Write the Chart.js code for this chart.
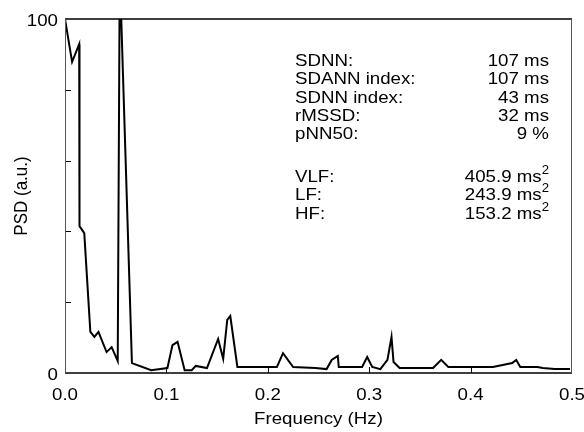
<!DOCTYPE html>
<html>
<head>
<meta charset="utf-8">
<script src="https://cdn.jsdelivr.net/npm/chart.js@4"></script>
<style>
  html, body { margin: 0; padding: 0; background: #fff; }
  #wrap { width: 584px; height: 432px; }
</style>
</head>
<body>
<div id="wrap"><canvas id="psd"></canvas></div>
<script>
// spectrum
const freqs = [0, 0.007, 0.014, 0.0143, 0.019, 0.025, 0.029, 0.033, 0.041, 0.046, 0.052, 0.054,
  0.066, 0.085, 0.101, 0.106, 0.111, 0.118, 0.125, 0.129, 0.140, 0.151, 0.156, 0.160, 0.163, 0.170,
  0.209, 0.215, 0.225, 0.247, 0.258, 0.263, 0.269, 0.270, 0.293, 0.298, 0.303, 0.311, 0.318, 0.322,
  0.324, 0.330, 0.363, 0.371, 0.378, 0.422, 0.441, 0.445, 0.449, 0.466, 0.471, 0.483, 0.498];
const psd = [100, 87.9, 92.9, 41.5, 39.5, 11.6, 10.2, 11.6, 5.9, 7.3, 3.4, 113.6,
  2.8, 0.8, 1.4, 7.9, 8.8, 0.8, 0.8, 2.0, 1.4, 9.6, 4.0, 15.0, 16.1, 1.7,
  1.7, 5.6, 1.7, 1.4, 1.1, 3.7, 4.8, 1.7, 1.7, 4.5, 1.7, 1.1, 3.7, 10.2,
  3.1, 1.4, 1.4, 3.7, 1.7, 1.7, 2.8, 3.7, 1.7, 1.7, 1.4, 1.1, 1.1];

const xTicks = [0, 0.1, 0.2, 0.3, 0.4, 0.5];
const yTicks = [0, 20, 40, 60, 80, 100];
const yLabeled = [0, 100];

const statLabels = ['SDNN:', 'SDANN index:', 'SDNN index:', 'rMSSD:', 'pNN50:'];
const statValues = ['107 ms', '107 ms', '43 ms', '32 ms', '9 %'];
const bandLabels = ['VLF:', 'LF:', 'HF:'];
const bandValues = ['405.9 ms', '243.9 ms', '153.2 ms'];

const FONT = '"Liberation Sans", Arial, sans-serif';
const SX = 1.1; // text in the picture is a bit wide

function txt(ctx, s, x, y, align, size, rot) {
  ctx.save();
  ctx.translate(x, y);
  ctx.scale(SX, 1);
  if (rot) ctx.rotate(rot);
  ctx.font = size + 'px ' + FONT;
  ctx.textAlign = align;
  ctx.textBaseline = 'alphabetic';
  ctx.fillText(s, 0, 0);
  ctx.restore();
}

// frame, inward ticks, labels and the text block
const extras = {
  id: 'extras',
  afterDraw(chart) {
    const ctx = chart.ctx;
    const a = chart.chartArea;
    const xs = chart.scales.x, ys = chart.scales.y;
    ctx.save();
    ctx.strokeStyle = '#000';
    ctx.lineWidth = 1;
    yTicks.slice(1, -1).forEach(v => {
      const y = Math.round(ys.getPixelForValue(v)) + 0.5;
      ctx.beginPath(); ctx.moveTo(a.left, y); ctx.lineTo(a.left + 6, y); ctx.stroke();
    });
    xTicks.slice(1, -1).forEach(v => {
      const x = Math.round(xs.getPixelForValue(v)) + 0.5;
      ctx.beginPath(); ctx.moveTo(x, a.bottom); ctx.lineTo(x, a.bottom - 6); ctx.stroke();
    });
    // box
    ctx.lineWidth = 1.5;
    ctx.beginPath();
    ctx.moveTo(a.left, a.top); ctx.lineTo(a.right, a.top);
    ctx.moveTo(a.left, a.bottom); ctx.lineTo(a.right, a.bottom);
    ctx.stroke();
    ctx.lineWidth = 1;
    ctx.strokeStyle = '#555';
    ctx.beginPath();
    ctx.moveTo(a.left + 0.5, a.top); ctx.lineTo(a.left + 0.5, a.bottom);
    ctx.moveTo(a.right - 0.5, a.top); ctx.lineTo(a.right - 0.5, a.bottom);
    ctx.stroke();

    ctx.fillStyle = '#000';
    // tick labels
    yLabeled.forEach(v => txt(ctx, String(v), a.left - 7, ys.getPixelForValue(v) + 6.5, 'right', 17));
    xTicks.forEach(v => txt(ctx, v.toFixed(1), xs.getPixelForValue(v), 399.5, 'center', 17));
    // axis titles
    txt(ctx, 'Frequency (Hz)', (a.left + a.right) / 2, 424, 'center', 17);
    txt(ctx, 'PSD (a.u.)', 27, (a.top + a.bottom) / 2, 'center', 17, -Math.PI / 2);

    // stats text
    const lx = 295, rx = 549, lh = 18.3;
    statLabels.forEach((t, i) => {
      const y = 66 + i * lh;
      txt(ctx, t, lx, y, 'left', 17);
      txt(ctx, statValues[i], rx, y, 'right', 17);
    });
    ctx.font = '12px ' + FONT;
    const w2 = ctx.measureText('2').width * SX;
    bandLabels.forEach((t, i) => {
      const y = 182 + i * lh;
      txt(ctx, t, lx, y, 'left', 17);
      txt(ctx, '2', rx, y - 8, 'right', 12);
      txt(ctx, bandValues[i], rx - w2, y, 'right', 17);
    });
    ctx.restore();
  }
};

new Chart(document.getElementById('psd'), {
  type: 'line',
  data: {
    datasets: [{
      data: freqs.map((f, i) => ({ x: f, y: psd[i] })),
      borderColor: '#000',
      borderWidth: 2,
      pointRadius: 0,
      tension: 0,
      fill: false
    }]
  },
  options: {
    responsive: true,
    maintainAspectRatio: false,
    animation: false,
    layout: { padding: { left: 0, top: 19, right: 12, bottom: 0 } },
    plugins: { legend: { display: false }, tooltip: { enabled: false } },
    scales: {
      x: {
        type: 'linear',
        min: 0, max: 0.5,
        grid: { display: false, drawTicks: false },
        border: { display: false },
        ticks: { display: false },
        afterFit: s => { s.height = 59; }
      },
      y: {
        min: 0, max: 100,
        grid: { display: false, drawTicks: false },
        border: { display: false },
        ticks: { display: false },
        afterFit: s => { s.width = 65; }
      }
    }
  },
  plugins: [extras]
});
</script>
</body>
</html>
